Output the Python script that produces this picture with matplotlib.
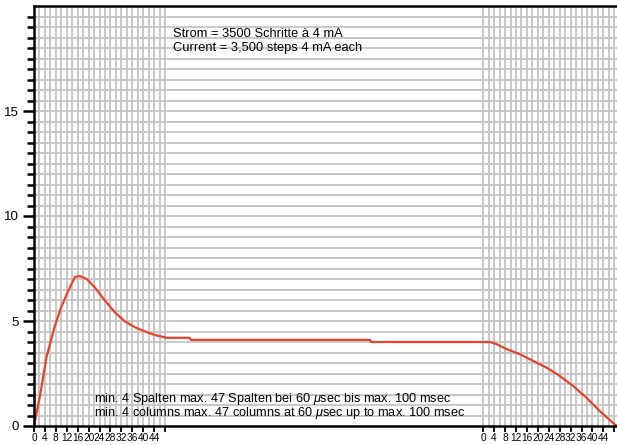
import numpy as np
import matplotlib.pyplot as plt

# Stromverlauf ueber die Spalten (Anfang, Mitte, Ende der Sequenz)
spalten_start = [0, 0.7, 2.2, 4.6, 7.7, 10.1, 12.6, 15, 16.8, 19.3, 22.3, 26,
                 29.7, 33.3, 37, 40.7, 44.3, 48]
strom_start = [0, 0.47, 1.43, 3.3, 4.8, 5.7, 6.45, 7.1, 7.14, 7.0, 6.6, 5.97,
               5.4, 4.98, 4.7, 4.5, 4.33, 4.22]

# Mittelteil (lange Pulsdauer, ohne Spaltenraster)
mitte_pos = [0, 9, 9.5, 75, 75.5, 116.5]
strom_mitte = [4.2, 4.2, 4.1, 4.1, 4.0, 4.0]

spalten_ende = [0, 2.5, 4.9, 8.6, 13.4, 18.3, 23.2, 28.1, 33, 37.8, 42.7, 48.2, 49]
strom_ende = [4.0, 4.0, 3.9, 3.66, 3.42, 3.1, 2.78, 2.38, 1.9, 1.35, 0.71, 0.07, 0.0]

tick_spalten = [0, 4, 8, 12, 16, 20, 24, 28, 32, 36, 40, 44]

text_oben = ["Strom = 3500 Schritte à 4 mA", "Current = 3,500 steps 4 mA each"]
text_unten = ["min. 4 Spalten max. 47 Spalten bei 60 $\\mu$sec bis max. 100 msec",
              "min. 4 columns max. 47 columns at 60 $\\mu$sec up to max. 100 msec"]

plt.rcParams['font.family'] = ['Liberation Sans', 'DejaVu Sans']
plt.rcParams['mathtext.fontset'] = 'custom'
plt.rcParams['mathtext.it'] = 'Liberation Sans:italic'

breite_links = 48
luecke = 116.5
offset_rechts = breite_links + luecke
x_max = offset_rechts + 49

fig = plt.figure(figsize=(6.17, 4.45), dpi=100)
ax = fig.add_axes([34 / 617, 19 / 445, 583 / 617, 420 / 445])
ax.set_xlim(0, x_max)
ax.set_ylim(0, 20)

grau = '#c4c4c4'
# horizontales Raster alle 0.5
for y in np.arange(0.5, 20, 0.5):
    ax.axhline(y, color=grau, lw=1.3, zorder=1)
# vertikales Raster nur in den Spaltenbereichen
for x in np.arange(2, breite_links + 1, 2):
    ax.axvline(x, color=grau, lw=1.3, zorder=1)
for x in np.arange(0, 49, 2):
    ax.axvline(offset_rechts + x, color=grau, lw=1.3, zorder=1)

rot = '#e8432a'
x_alle = (list(spalten_start)
          + [breite_links + p for p in mitte_pos]
          + [offset_rechts + s for s in spalten_ende])
y_alle = list(strom_start) + list(strom_mitte) + list(strom_ende)
ax.plot(x_alle, y_alle, color=rot, lw=1.6, zorder=3, clip_on=False)

# Achsen
for s in ['left', 'top', 'bottom']:
    ax.spines[s].set_linewidth(1.8)
    ax.spines[s].set_zorder(4)
ax.spines['right'].set_visible(False)

ax.set_yticks([0, 5, 10, 15])
ax.set_yticks(np.arange(0, 20, 0.5), minor=True)
ax.tick_params(axis='y', which='major', length=8, width=1.8, labelsize=9.5, pad=3)
ax.tick_params(axis='y', which='minor', length=5, width=1.8)

xt = tick_spalten + [offset_rechts + t for t in tick_spalten]
ax.set_xticks(xt, [str(t) for t in tick_spalten] * 2)
ax.set_xticks([48, offset_rechts + 48], minor=True)
ax.tick_params(axis='x', which='both', length=4.5, width=1.3, labelsize=7.3, pad=0.5)

ax.text(51, 18.65, text_oben[0], fontsize=9.3, va='center')
ax.text(51, 18.0, text_oben[1], fontsize=9.3, va='center')
ax.text(22, 1.3, text_unten[0], fontsize=9.2, va='center')
ax.text(22, 0.6, text_unten[1], fontsize=9.2, va='center')

fig.savefig('out.png', dpi=100)
